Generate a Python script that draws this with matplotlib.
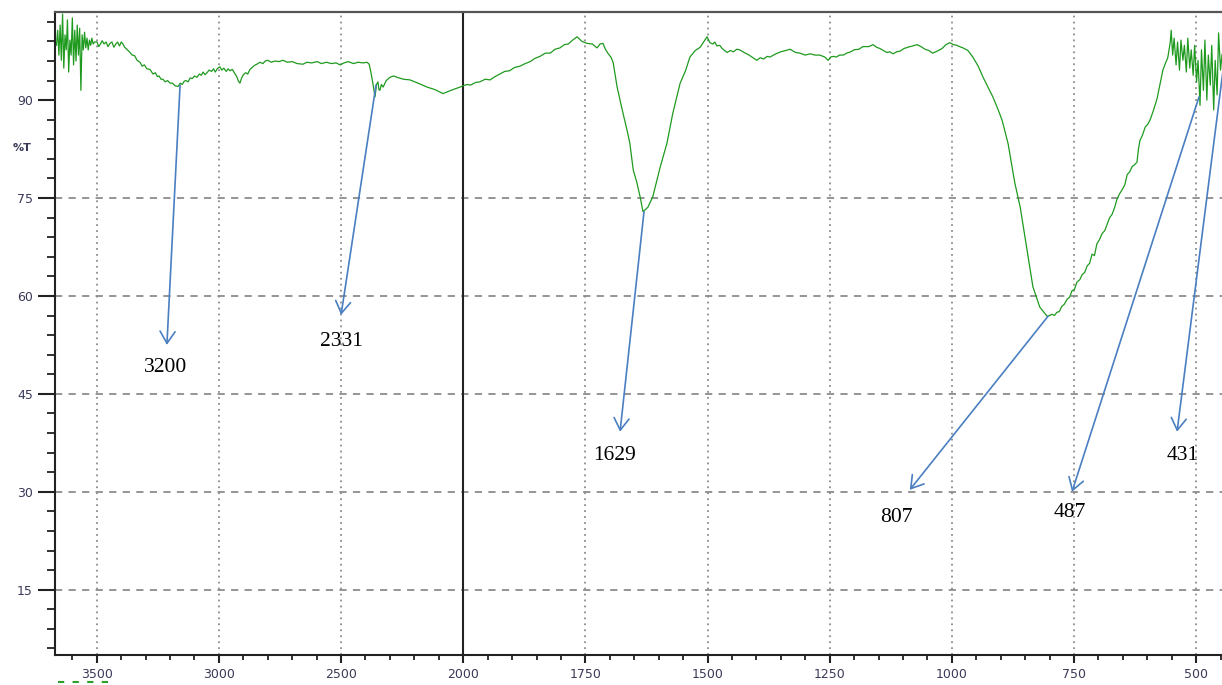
import numpy as np
import matplotlib
matplotlib.use("Agg")
import matplotlib.pyplot as plt
from matplotlib.lines import Line2D
from matplotlib.ticker import FixedLocator, FixedFormatter, NullFormatter

# FTIR transmittance spectrum (wavenumber in cm^-1, %T)
wavenumber = [
    3665, 3660, 3655, 3650, 3645, 3640, 3635, 3630, 3625, 3620, 3615, 3610,
    3605, 3600, 3595, 3590, 3585, 3580, 3575, 3570, 3565, 3560, 3555, 3550,
    3545, 3540, 3535, 3530, 3525, 3520, 3515, 3510, 3505,
    3499, 3492, 3485, 3478, 3470, 3462, 3454, 3446, 3438, 3430, 3422, 3415,
    3407, 3400, 3393, 3386, 3380, 3372, 3364, 3355, 3345, 3335, 3323, 3314,
    3305, 3295, 3282, 3270, 3260, 3252, 3245, 3237, 3229, 3220, 3210, 3200,
    3190, 3180, 3167, 3158, 3150, 3142, 3135, 3126, 3118, 3109, 3100, 3090,
    3080, 3072, 3065, 3057, 3049, 3040, 3030, 3022, 3015, 3005, 2996, 2988,
    2980, 2970, 2962, 2955, 2945, 2935, 2927, 2920, 2914, 2907, 2900, 2890,
    2882, 2873, 2864, 2855, 2845, 2832, 2820, 2810, 2800, 2785, 2770, 2755,
    2738, 2720, 2700, 2680, 2656, 2640, 2620, 2598, 2580, 2560, 2540, 2520,
    2504, 2488, 2470, 2450, 2430, 2410, 2394,
    2385, 2377, 2370, 2361, 2355, 2349, 2345, 2341, 2335,
    2328, 2315, 2300, 2285, 2271, 2245, 2218, 2185, 2148, 2115, 2083, 2050,
    2013,
    2000, 1992, 1985, 1975, 1966, 1955, 1945, 1935, 1925, 1915, 1905, 1895,
    1884, 1873, 1863, 1853, 1843, 1832, 1822, 1812, 1802, 1793, 1785, 1776,
    1767,
    1757, 1747, 1736, 1726, 1720, 1714, 1709, 1704, 1697, 1693, 1685, 1679,
    1673, 1665, 1659, 1652, 1645, 1638, 1632, 1622, 1612, 1597, 1583, 1571,
    1556, 1545, 1536, 1525, 1515,
    1501, 1495, 1489, 1485, 1481, 1475, 1470, 1465, 1460, 1453, 1447, 1440,
    1434, 1425, 1415, 1407, 1399, 1392, 1385, 1378, 1372, 1360, 1350, 1340,
    1331, 1320, 1311, 1300, 1290, 1280, 1270, 1260, 1253, 1248, 1243, 1236,
    1230, 1222, 1215, 1207, 1200, 1190, 1182, 1170, 1161, 1154, 1147, 1140,
    1133, 1127, 1120, 1113, 1106, 1098, 1090, 1080, 1071, 1063, 1055, 1047,
    1039, 1030, 1020, 1012, 1004, 997, 990, 984, 977,
    967, 957, 946, 936, 926, 916, 905, 897,
    885, 871, 860, 846, 834, 820,
    805, 800, 795, 790, 785, 780, 775, 770, 764, 759, 754, 749,
    744, 738, 733, 728, 723, 718, 713, 708, 703, 698, 692, 687,
    682, 677, 672, 667, 662, 657, 652, 646, 641, 636, 631, 626,
    621, 618, 615, 610, 604, 599, 594, 587, 580, 574, 568, 563,
    558, 553, 551,
    548, 545, 541, 538, 534, 531, 527, 524, 520, 517, 513, 510,
    506, 503, 499, 496, 492, 489, 485, 482, 478, 475, 471, 468,
    464, 461, 457, 454, 450, 447,
]
transmittance = [
    98.4, 100.7, 96.9, 101.5, 96.1, 103.2, 94.9, 100.0, 97.7, 102.3, 94.3, 99.2,
    96.9, 102.6, 95.4, 100.7, 96.0, 101.5, 96.9, 101.0, 91.5, 100.0, 97.7, 100.4,
    98.0, 99.5, 97.7, 99.2, 98.4, 99.5, 98.6, 98.9, 98.9,
    98.9, 98.2, 98.6, 99.1, 98.6, 98.9, 98.2, 98.7, 98.9, 98.1, 98.6, 98.9,
    98.3, 98.9, 98.6, 98.1, 97.9, 97.6, 97.3, 96.9, 96.8, 96.1, 95.8, 95.2,
    95.4, 94.8, 94.7, 94.0, 94.2, 93.6, 93.7, 93.2, 93.2, 92.8, 93.0, 92.6,
    92.6, 92.2, 92.1, 92.6, 92.4, 92.9, 93.0, 92.8, 93.4, 93.3, 93.7, 93.5,
    94.0, 93.8, 94.3, 93.9, 94.2, 94.6, 94.4, 94.8, 94.3, 94.9, 95.1, 94.6,
    94.9, 94.4, 94.8, 94.5, 94.7, 94.1, 93.6, 92.9, 92.6, 93.4, 93.9, 94.2,
    94.0, 94.7, 95.0, 95.3, 95.5, 95.8, 95.6, 96.0, 96.1, 95.8, 96.0, 95.9,
    96.1, 95.8, 95.9, 95.6, 95.5, 95.8, 95.7, 95.9, 95.6, 95.8, 95.6, 95.7,
    95.4, 95.7, 95.9, 95.6, 95.8, 95.7, 95.8,
    95.5, 94.1, 92.6, 90.5, 92.4, 92.8, 91.6, 91.5, 92.4,
    92.0, 93.0, 93.5, 93.7, 93.5, 93.2, 93.1, 92.6, 92.0, 91.6, 91.0, 91.5,
    92.0,
    92.2, 92.4, 92.3, 92.7, 92.8, 93.2, 93.1, 93.6, 94.0, 94.4, 94.5, 95.0,
    95.2, 95.6, 95.9, 96.4, 96.7, 97.2, 97.2, 97.8, 98.0, 98.5, 98.6, 99.2,
    99.7,
    99.0, 98.7, 98.6, 98.0, 98.6, 98.7, 97.8, 97.2, 96.5, 95.7, 92.0, 90.0,
    88.0, 85.5, 83.4, 79.3, 77.5, 75.2, 72.9, 73.6, 75.2, 79.7, 83.4, 88.0,
    92.6, 94.5, 96.6, 97.6, 98.1,
    99.7, 98.8, 98.6, 98.9, 98.3, 98.4, 97.9, 97.6, 97.3, 97.6, 97.4, 97.8,
    97.7, 97.3, 96.9, 96.5, 96.1, 96.5, 96.3, 96.7, 96.6, 97.1, 97.4, 97.6,
    97.8, 97.3, 97.2, 96.9, 97.1, 96.9, 96.9, 96.6, 96.1, 96.6, 96.7, 96.6,
    96.9, 96.9, 97.2, 97.4, 97.7, 97.8, 98.2, 98.2, 98.5, 98.1, 97.9, 97.6,
    97.3, 97.4, 97.1, 97.4, 97.5, 97.9, 98.1, 98.3, 98.5, 98.2, 97.8, 97.6,
    97.2, 97.5, 97.9, 98.5, 98.8, 98.5, 98.4, 98.2, 98.0,
    97.6, 96.6, 95.2, 93.5, 92.0, 90.5, 88.5, 86.9,
    83.4, 77.3, 73.6, 67.0, 61.4, 58.3,
    56.9, 57.0, 57.2, 57.0, 57.5, 57.6, 58.4, 58.7, 59.5, 59.8, 60.8, 61.0,
    62.1, 62.5, 63.3, 63.6, 64.6, 65.0, 66.4, 66.2, 68.0, 68.6, 69.6, 70.0,
    71.0, 72.0, 72.5, 73.5, 74.8, 75.6, 76.2, 77.0, 78.6, 79.0, 79.8, 80.1,
    80.5, 82.5, 83.8, 84.6, 85.9, 86.3, 87.0, 88.5, 90.2, 92.4, 94.6, 95.6,
    96.5, 98.8, 100.7,
    96.9, 99.5, 95.4, 98.9, 94.6, 99.2, 96.1, 98.4, 94.3, 99.5, 94.9, 97.7,
    93.8, 98.4, 92.8, 96.1, 89.2, 97.7, 91.5, 99.2, 90.0, 96.9, 92.3, 98.4,
    88.5, 96.1, 90.8, 100.3, 94.6, 97.0,
]

# Band labels: (text, arrow tail x, tail y, arrow head x, head y, label x, label y)
band_labels = ["3200", "2331", "1629", "807", "487", "431"]
tail_x = [3159, 2357, 1630, 803, 494, 445]
tail_y = [92.3, 92.3, 72.9, 56.9, 90.5, 94.5]
head_x = [3213, 2500, 1679, 1086, 754, 539]
head_y = [52.5, 57.1, 39.2, 30.3, 30.0, 39.2]
text_x = [3217, 2500, 1691, 1114, 758, 527]
text_y = [49.1, 53.1, 35.6, 26.0, 26.8, 35.6]

x_major = [3500, 3000, 2500, 2000, 1750, 1500, 1250, 1000, 750, 500]
x_major_labels = ["3500", "3000", "2500", "2000", "1750", "1500",
                  "1250", "1000", "750", "500"]
x_minor = [3600, 3400, 3300, 3200, 3100, 2900, 2800, 2700, 2600, 2400,
           2300, 2200, 2100, 1950, 1900, 1850, 1800, 1700, 1650, 1600,
           1550, 1450, 1400, 1350, 1300, 1200, 1150, 1100, 1050, 950,
           900, 850, 800, 700, 650, 600, 550, 450]
y_major = [15, 30, 45, 60, 75, 90]
y_major_labels = ["15", "30", "45", "60", "75", "90"]
y_minor = [6, 9, 12, 18, 21, 24, 27, 33, 36, 39, 42, 48, 51, 54, 57,
           63, 66, 69, 72, 78, 81, 84, 87, 93, 96, 99, 102]
h_grid = [15, 30, 45, 60, 75]


# Wavenumber axis compressed by a factor of two above 2000 cm^-1
def fwd(x):
    x = np.asarray(x, dtype=float)
    return np.where(x > 2000, 2000 + (x - 2000) / 2.0, x)


def inv(u):
    u = np.asarray(u, dtype=float)
    return np.where(u > 2000, 2000 + (u - 2000) * 2.0, u)


fig = plt.figure(figsize=(12.22, 6.85), dpi=100)
ax = fig.add_axes([55 / 1222, 30 / 685, 1167 / 1222, 643 / 685])
ax.set_xscale("function", functions=(fwd, inv))
ax.set_xlim(3671, 447)
ax.set_ylim(5.0, 103.5)

grid_col = "#8c8c8c"
for xv in x_major:
    if xv == 2000:
        continue
    ax.axvline(xv, color=grid_col, lw=1.3, ls=(0, (1, 2.3)), zorder=1)
for yv in h_grid:
    ax.axhline(yv, color=grid_col, lw=1.3, ls=(0, (4, 3.5)), zorder=1)
ax.axvline(2000, color="#222222", lw=1.5, zorder=2)

ax.plot(wavenumber, transmittance, color="#1f9a1f", lw=0.9, zorder=3)

arrow_col = "#4a7fc1"
for lab, tx, ty, hx, hy, lx, ly in zip(band_labels, tail_x, tail_y,
                                       head_x, head_y, text_x, text_y):
    ax.annotate("", xy=(hx, hy), xytext=(tx, ty), annotation_clip=False,
                arrowprops=dict(arrowstyle="->,head_length=0.43,head_width=0.27",
                                color=arrow_col, lw=1.2, mutation_scale=20,
                                shrinkA=0, shrinkB=0), zorder=4)
    ax.text(lx, ly, lab, ha="center", va="center", fontsize=15.5,
            family="Liberation Serif", color="black", zorder=5)

ax.xaxis.set_major_locator(FixedLocator(x_major))
ax.xaxis.set_major_formatter(FixedFormatter(x_major_labels))
ax.xaxis.set_minor_locator(FixedLocator(x_minor))
ax.xaxis.set_minor_formatter(NullFormatter())
ax.yaxis.set_major_locator(FixedLocator(y_major))
ax.yaxis.set_major_formatter(FixedFormatter(y_major_labels))
ax.yaxis.set_minor_locator(FixedLocator(y_minor))
ax.yaxis.set_minor_formatter(NullFormatter())

lab_col = "#3a3a58"
ax.tick_params(axis="x", which="major", direction="out", length=6, width=1.5,
               pad=3.5, labelsize=9, labelcolor=lab_col, color="#222222")
ax.tick_params(axis="x", which="minor", direction="out", length=3.5, width=1.3,
               color="#222222")
ax.tick_params(axis="y", which="major", direction="out", length=12, width=1.5,
               pad=4, labelsize=9, labelcolor=lab_col, color="#222222")
ax.tick_params(axis="y", which="minor", direction="out", length=6, width=1.3,
               color="#222222")

for side in ("left", "bottom"):
    ax.spines[side].set_color("#222222")
    ax.spines[side].set_linewidth(1.5)
ax.spines["top"].set_color("#555555")
ax.spines["top"].set_linewidth(1.6)
ax.spines["right"].set_visible(False)

fig.text(22 / 1222, 1 - 148 / 685, "%T", fontsize=8, color=lab_col,
         ha="center", va="center", fontweight="bold")

# legend fragment along the bottom edge
fig.add_artist(Line2D([58 / 1222, 108 / 1222], [3 / 685, 3 / 685],
                      color="#2aa02a", lw=1.5, ls=(0, (3, 4)),
                      transform=fig.transFigure))

fig.savefig("out.png", dpi=100)
